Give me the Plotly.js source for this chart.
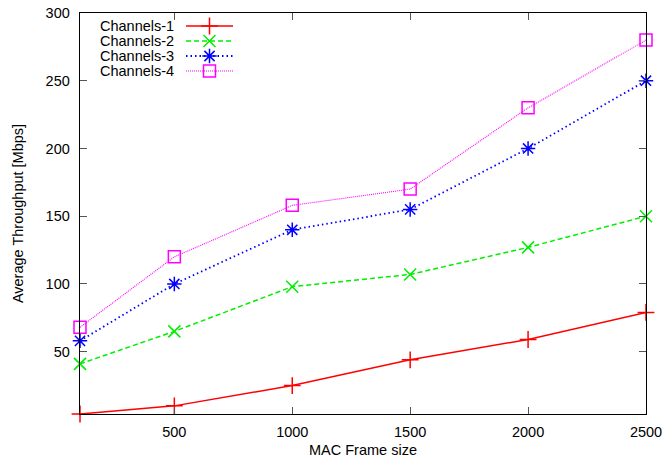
<!DOCTYPE html>
<html>
<head>
<meta charset="utf-8">
<script src="https://cdn.plot.ly/plotly-3.0.1.min.js"></script>
<style>html,body{margin:0;padding:0;background:#fff;}#chart{width:664px;height:462px;}</style>
</head>
<body>
<div id="chart"></div>
<script>
const frameSize = [100, 500, 1000, 1500, 2000, 2500];
const channels1 = [4, 10, 25, 44, 59, 79];
const channels2 = [41, 65, 98, 107, 127, 150];
const channels3 = [58, 100, 140, 155, 200, 250];
const channels4 = [68, 120, 158, 170, 230, 280];
const seriesNames = ["Channels-1", "Channels-2", "Channels-3", "Channels-4"];
const xTicks = [500, 1000, 1500, 2000, 2500];
const yTicks = [50, 100, 150, 200, 250, 300];

const colors = ["#ff0000", "#00ee00", "#0000ff", "#ff00ff"];
const dashes = ["solid", "5px,3px", "1.5px,3px", "1px,1px"];
const symbols = ["cross-thin-open", "x-thin-open", "asterisk-open", "square-open"];
const widths = [1.5, 1.5, 1.8, 1.1];
const allY = [channels1, channels2, channels3, channels4];
const FONT = "Liberation Sans, Arial, Helvetica, sans-serif";

const traces = [];
allY.forEach((ys, i) => {
  traces.push({
    type: "scatter", mode: "lines+markers", x: frameSize, y: ys, name: seriesNames[i],
    line: {color: colors[i], width: widths[i], dash: dashes[i]},
    marker: {symbol: symbols[i], size: 12, color: colors[i], line: {color: colors[i], width: 1.5}},
    cliponaxis: false, showlegend: false
  });
});

// custom gnuplot-style key (text left, sample right) on an overlay axis measured in plot pixels
const rowY = [13, 28, 43, 58];
const annotations = [];
seriesNames.forEach((n, i) => {
  traces.push({
    type: "scatter", mode: "lines", x: [106, 153], y: [rowY[i], rowY[i]], xaxis: "x2", yaxis: "y2",
    line: {color: colors[i], width: widths[i], dash: dashes[i]}, showlegend: false, hoverinfo: "skip"
  });
  traces.push({
    type: "scatter", mode: "markers", x: [129.5], y: [rowY[i]], xaxis: "x2", yaxis: "y2",
    marker: {symbol: symbols[i], size: 12, color: colors[i], line: {color: colors[i], width: 1.5}},
    showlegend: false, hoverinfo: "skip", cliponaxis: false
  });
  annotations.push({
    xref: "x2", yref: "y2", x: 96, y: rowY[i], text: n, showarrow: false,
    xanchor: "right", yanchor: "middle", font: {family: FONT, size: 14.5, color: "#000"}
  });
});

const layout = {
  width: 664, height: 462,
  margin: {l: 80, r: 18, t: 13, b: 48, pad: 0},
  paper_bgcolor: "#fff", plot_bgcolor: "#fff",
  font: {family: FONT, size: 14.5, color: "#000"},
  showlegend: false,
  xaxis: {
    range: [100, 2500], tickvals: xTicks, ticktext: xTicks.map(String),
    ticks: "inside", ticklen: 7, tickcolor: "#555", tickwidth: 1,
    showline: true, linecolor: "#000", linewidth: 1.3, mirror: "ticks",
    showgrid: false, zeroline: false, ticklabelstandoff: 4,
    tickfont: {family: FONT, size: 14.5},
    title: {text: "MAC Frame size", font: {family: FONT, size: 14.5}, standoff: 6}
  },
  yaxis: {
    range: [4, 300], tickvals: yTicks, ticktext: yTicks.map(String),
    ticks: "inside", ticklen: 7, tickcolor: "#555", tickwidth: 1,
    showline: true, linecolor: "#000", linewidth: 1.3, mirror: "ticks",
    showgrid: false, zeroline: false, ticklabelstandoff: 6,
    tickfont: {family: FONT, size: 14.5},
    title: {text: "Average Throughput [Mbps]", font: {family: FONT, size: 14.5}, standoff: 18}
  },
  xaxis2: {overlaying: "x", domain: [0, 1], range: [0, 566], visible: false, fixedrange: true},
  yaxis2: {overlaying: "y", domain: [0, 1], range: [401, 0], visible: false, fixedrange: true},
  annotations: annotations
};

Plotly.newPlot("chart", traces, layout, {displayModeBar: false, staticPlot: true});
</script>
</body>
</html>
